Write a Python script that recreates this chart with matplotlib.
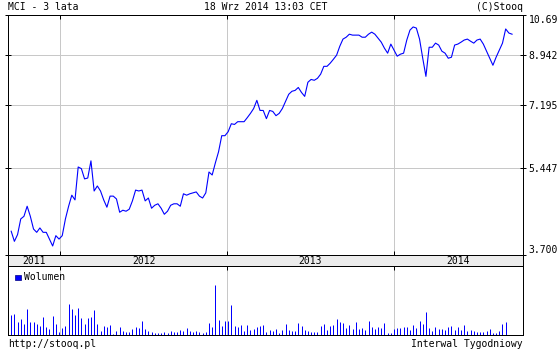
import numpy as np
import pandas as pd
import matplotlib
matplotlib.use("Agg")
import matplotlib.pyplot as plt
import matplotlib.dates as mdates
from matplotlib.ticker import NullLocator

# tygodniowe notowania MCI, ostatnie 3 lata
dates = pd.date_range(end="2014-09-18", periods=158, freq="7D")
close = [
    4.11, 3.93, 4.05, 4.34, 4.39, 4.59, 4.39, 4.15, 4.09, 4.17,
    4.09, 4.09, 3.97, 3.85, 4.03, 3.97, 4.03, 4.34, 4.59, 4.82,
    4.72, 5.46, 5.42, 5.18, 5.20, 5.61, 4.91, 5.02, 4.91, 4.72,
    4.57, 4.80, 4.80, 4.74, 4.47, 4.51, 4.49, 4.53, 4.70, 4.93,
    4.91, 4.93, 4.70, 4.76, 4.55, 4.61, 4.64, 4.55, 4.43, 4.49,
    4.61, 4.64, 4.64, 4.59, 4.85, 4.82, 4.85, 4.87, 4.89, 4.80,
    4.76, 4.87, 5.34, 5.27, 5.56, 5.84, 6.27, 6.27, 6.38, 6.61,
    6.59, 6.67, 6.67, 6.67, 6.79, 6.92, 7.07, 7.33, 7.01, 7.01,
    6.76, 7.01, 6.98, 6.85, 6.92, 7.07, 7.30, 7.53, 7.63, 7.66,
    7.76, 7.59, 7.46, 7.94, 8.04, 8.01, 8.08, 8.23, 8.52, 8.52,
    8.64, 8.79, 8.95, 9.31, 9.61, 9.69, 9.82, 9.78, 9.78, 9.78,
    9.69, 9.69, 9.82, 9.91, 9.82, 9.65, 9.48, 9.23, 9.03, 9.40,
    9.15, 8.91, 8.99, 9.03, 9.57, 10.00, 10.14, 10.09, 9.61, 8.83,
    8.15, 9.27, 9.27, 9.44, 9.36, 9.11, 9.03, 8.83, 8.87, 9.36,
    9.40, 9.48, 9.57, 9.61, 9.52, 9.44, 9.57, 9.61, 9.40, 9.11,
    8.83, 8.56, 8.87, 9.15, 9.44, 10.05, 9.87, 9.82,
]
volume = [
    60, 63, 40, 47, 33, 79, 40, 40, 33, 28, 55, 25, 19, 58, 34, 10, 20, 28, 94, 79,
    61, 82, 52, 34, 52, 55, 76, 34, 13, 28, 25, 31, 4, 13, 25, 13, 10, 10, 19, 25,
    22, 43, 19, 13, 9, 7, 7, 7, 9, 7, 13, 10, 10, 16, 13, 22, 13, 10, 13, 10,
    7, 10, 37, 25, 148, 46, 28, 43, 43, 91, 28, 25, 31, 13, 31, 16, 19, 25, 28, 30,
    10, 16, 13, 19, 7, 16, 34, 16, 13, 13, 37, 28, 16, 13, 10, 10, 10, 28, 34, 16,
    28, 31, 49, 40, 37, 22, 31, 19, 40, 19, 22, 16, 43, 25, 19, 25, 22, 37, 7, 7,
    19, 22, 22, 25, 25, 16, 31, 22, 43, 34, 70, 22, 13, 25, 19, 19, 16, 25, 28, 16,
    25, 16, 31, 13, 16, 13, 10, 10, 10, 13, 19, 7, 7, 13, 34, 40,
]
y_ticks = [3.7, 5.447, 7.195, 8.942, 10.69]
y_labels = ["3.700", "5.447", "7.195", "8.942", "10.69"]
years = [2011, 2012, 2013, 2014]

plt.rcParams["font.family"] = ["DejaVu Sans Mono"]
plt.rcParams["font.size"] = 7

W, H = 560, 350
fig = plt.figure(figsize=(W / 100, H / 100), dpi=100)
fig.patch.set_facecolor("white")

x_lo = pd.Timestamp("2011-09-08")
x_hi = pd.Timestamp("2014-10-12")
year_starts = [pd.Timestamp(f"{y}-01-01") for y in years[1:]]
grid_c = "#c8c8c8"
blue = "#0000ff"
px = 72 / 100  # 1 piksel w punktach


def px_axes(x0, y0, x1, y1):
    return fig.add_axes([x0 / W, 1 - y1 / H, (x1 - x0) / W, (y1 - y0) / H])


def frame(a):
    for s in a.spines.values():
        s.set_linewidth(px)
        s.set_zorder(5)


# wykres kursu
ax = px_axes(8, 15, 523, 255)
for d in year_starts:
    ax.axvline(d, color=grid_c, lw=px, zorder=1)
for v in y_ticks[1:-1]:
    ax.axhline(v, color=grid_c, lw=px, zorder=1)
ax.plot(dates, close, color=blue, lw=0.8, zorder=3)
ax.set_yscale("log")
ax.set_ylim(y_ticks[0], y_ticks[-1])
ax.set_xlim(x_lo, x_hi)
ax.set_yticks(y_ticks)
ax.set_yticklabels(y_labels)
ax.yaxis.set_minor_locator(NullLocator())
ax.set_xticks(year_starts)
ax.xaxis.set_minor_locator(NullLocator())
ax.tick_params(axis="y", left=True, right=True, labelleft=False, labelright=True,
               direction="inout", length=4, width=px, pad=2)
ax.tick_params(axis="x", top=True, bottom=True, labelbottom=False,
               direction="in", length=3, width=px)
labs = ax.get_yticklabels()
labs[0].set_va("bottom")
labs[-1].set_va("top")
frame(ax)

# pasek z latami
band = px_axes(8, 255, 523, 266)
band.set_facecolor("#ececec")
band.set_xlim(x_lo, x_hi)
band.set_ylim(0, 1)
band.set_xticks([])
band.set_yticks([])
frame(band)
lo_num, hi_num = mdates.date2num(x_lo), mdates.date2num(x_hi)
for y in years:
    a = max(mdates.date2num(pd.Timestamp(f"{y}-01-01")), lo_num)
    b = min(mdates.date2num(pd.Timestamp(f"{y + 1}-01-01")), hi_num)
    band.text((a + b) / 2, 0.45, str(y), ha="center", va="center", fontsize=7)

# wolumen
axv = px_axes(8, 266, 523, 335)
for d in year_starts:
    axv.axvline(d, color=grid_c, lw=px, zorder=1)
axv.vlines(dates[:len(volume)], 0, volume, color=blue, lw=px, zorder=3)
axv.set_xlim(x_lo, x_hi)
axv.set_ylim(0, 206)
axv.set_yticks([])
axv.set_xticks(year_starts)
axv.xaxis.set_minor_locator(NullLocator())
axv.tick_params(axis="x", top=True, bottom=False, labelbottom=False,
                direction="in", length=3, width=px)
frame(axv)
axv.add_patch(plt.Rectangle((0.013, 0.79), 0.012, 0.085, transform=axv.transAxes,
                            facecolor=blue, edgecolor="#000080", lw=0.5))
axv.text(0.032, 0.835, "Wolumen", transform=axv.transAxes, ha="left", va="center", fontsize=7)

# napisy
fig.text(8 / W, 1 - 7.5 / H, "MCI - 3 lata", ha="left", va="center")
fig.text(265.5 / W, 1 - 7.5 / H, "18 Wrz 2014 13:03 CET", ha="center", va="center")
fig.text(523 / W, 1 - 7.5 / H, "(C)Stooq", ha="right", va="center")
fig.text(8 / W, 1 - 344 / H, "http://stooq.pl", ha="left", va="center")
fig.text(523 / W, 1 - 344 / H, "Interwal Tygodniowy", ha="right", va="center")

fig.savefig("out.png", dpi=100, facecolor="white")
